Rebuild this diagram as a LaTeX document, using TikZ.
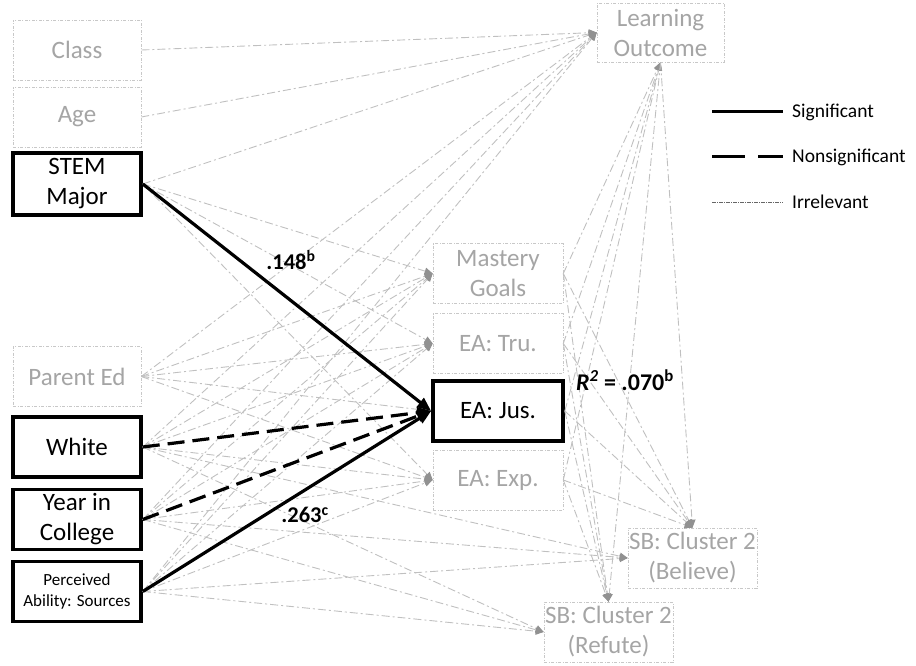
\documentclass[tikz,border=0pt]{standalone}
\usepackage{fontspec}
\setmainfont{Carlito}
\usetikzlibrary{arrows.meta}
\definecolor{gtext}{RGB}{165,165,165}
\definecolor{gline}{RGB}{192,192,192}
\definecolor{gtip}{RGB}{145,145,145}
\definecolor{gbox}{RGB}{200,200,200}
\tikzset{
  boxbase/.style={minimum height=60pt, align=center, inner sep=0pt, fill=white,
    font=\fontsize{25}{30}\selectfont},
  lbox/.style={boxbase, draw=gbox, line width=0.6pt,
    dash pattern=on 3pt off 1.5pt on 1pt off 1.5pt, text=gtext},
  bbox/.style={boxbase, draw=black, line width=3.6pt, text=black},
  leftw/.style={minimum width=128pt},
  midw/.style={minimum width=130pt},
  irr/.style={draw=gline, line width=0.9pt,
    dash pattern=on 8pt off 3pt on 2pt off 3pt,
    -{Triangle[length=8pt,width=7pt,color=gtip]}},
  sig/.style={line width=3.2pt, -{Triangle[length=14pt,width=11pt]}},
  nsig/.style={sig, dash pattern=on 17pt off 8pt},
  lgd/.style={anchor=west, inner sep=0pt, font=\fontsize{19.5}{23}\selectfont},
  coef/.style={inner sep=0pt, font=\fontsize{22.5}{26}\selectfont\bfseries}
}
\begin{document}
\begin{tikzpicture}[x=1pt,y=-1pt]
\useasboundingbox (0,0) rectangle (916,666);
% left column
\node[lbox,leftw] (class) at (77,50) {Class};
\node[lbox,leftw] (age) at (77,117) {Age};
\node[bbox,leftw,minimum height=62pt] (stem) at (77,184) {STEM\\Major};
\node[lbox,leftw] (parent) at (77,376.5) {Parent Ed};
\node[bbox,leftw] (white) at (77,447) {White};
\node[bbox,leftw] (year) at (77,519.5) {Year in\\College};
\node[bbox,leftw,font=\fontsize{17}{21}\selectfont] (perc) at (77,591.5) {Perceived\\Ability: Sources};
% middle column
\node[lbox,midw] (mast) at (498,273.5) {Mastery\\Goals};
\node[lbox,midw] (tru) at (498,343.5) {EA: Tru.};
\node[bbox,midw] (jus) at (498,411) {EA: Jus.};
\node[lbox,midw] (exp) at (498,480) {EA: Exp.};
% outcomes
\node[lbox,minimum width=127pt,minimum height=59pt] (lo) at (660.5,32.5) {Learning\\Outcome};
\node[lbox,minimum width=129pt] (bel) at (692.5,558) {SB: Cluster 2\\(Believe)};
\node[lbox,minimum width=129pt] (ref) at (608.5,632) {SB: Cluster 2\\(Refute)};
% irrelevant connectors
\foreach \s in {class,age,stem,parent,white,year,perc}
  \draw[irr] (\s.east) -- (lo.west);
\foreach \s in {stem,parent,white,year,perc}
  \foreach \t in {mast,tru,exp}
    \draw[irr] (\s.east) -- (\t.west);
\draw[irr] (parent.east) -- (jus.west);
\foreach \s in {white,year,perc}{
  \draw[irr] (\s.east) -- (bel.west);
  \draw[irr] (\s.east) -- (ref.west);
}
\foreach \m in {mast,tru,jus,exp}{
  \draw[irr] (\m.east) -- (lo.south);
  \draw[irr] (\m.east) -- (bel.north);
  \draw[irr] (\m.east) -- (ref.north);
}
\draw[irr] (lo.south) -- (bel.north);
\draw[irr] (lo.south) -- (ref.north);
% significant / nonsignificant paths
\draw[sig] (stem.east) -- (jus.west);
\draw[nsig] (white.east) -- (jus.west);
\draw[nsig] (year.east) -- (jus.west);
\draw[sig] (perc.east) -- (jus.west);
% coefficients
\node[coef] (c148) at (291,260) {.148\textsuperscript{b}};
\node[coef] (c263) at (305,515) {.263\textsuperscript{c}};
\node[coef,font=\fontsize{24}{28}\selectfont\bfseries] (r2) at (625,380) {\textit{R}\textsuperscript{\textit{2}} = .070\textsuperscript{b}};
% legend
\coordinate (a1) at (712,112); \coordinate (a2) at (783,112);
\coordinate (b1) at (712,157); \coordinate (b2) at (783,157);
\coordinate (d1) at (712,202); \coordinate (d2) at (783,202);
\draw[line width=3pt] (a1) -- (a2);
\draw[line width=3pt, dash pattern=on 33pt off 13pt] (b1) -- (b2);
\draw[line width=0.6pt, draw=black!60, dash pattern=on 4pt off 1pt on 1pt off 1pt] (d1) -- (d2);
\node[lgd] (lsig) at (792,112) {Significant};
\node[lgd] (lns) at (792,157) {Nonsignificant};
\node[lgd] (lirr) at (792,202) {Irrelevant};
\end{tikzpicture}
\end{document}
